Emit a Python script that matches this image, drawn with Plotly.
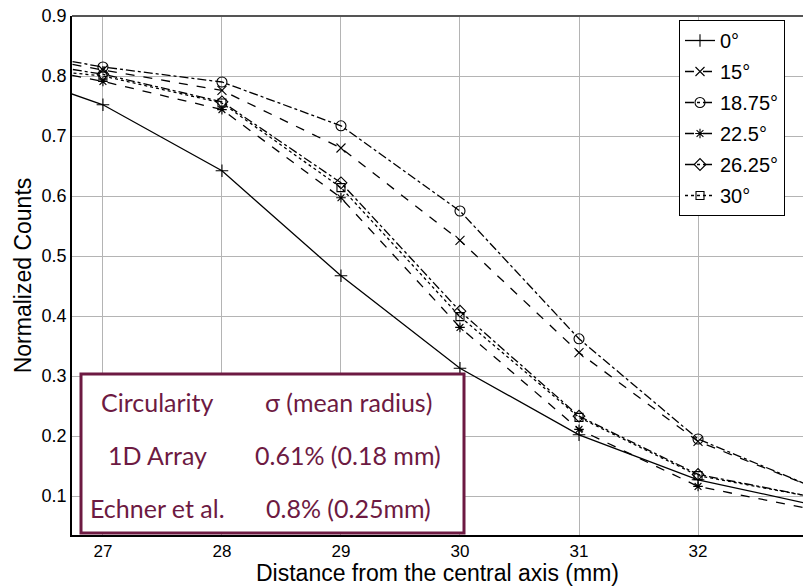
import plotly.graph_objects as go

# ---- data ----
distance_mm = [26, 27, 28, 29, 30, 31, 32, 33]
counts_0 = [0.821, 0.752, 0.642, 0.467, 0.313, 0.202, 0.127, 0.084]
counts_15 = [0.846, 0.810, 0.776, 0.680, 0.526, 0.339, 0.191, 0.112]
counts_18_75 = [0.850, 0.815, 0.790, 0.717, 0.575, 0.362, 0.195, 0.112]
counts_22_5 = [0.830, 0.791, 0.744, 0.597, 0.381, 0.211, 0.116, 0.076]
counts_26_25 = [0.834, 0.803, 0.757, 0.622, 0.408, 0.233, 0.136, 0.097]
counts_30 = [0.820, 0.800, 0.755, 0.614, 0.399, 0.231, 0.134, 0.097]

series_names = ["0°", "15°", "18.75°", "22.5°", "26.25°", "30°"]
x_ticks = [27, 28, 29, 30, 31, 32]
y_ticks = [0.1, 0.2, 0.3, 0.4, 0.5, 0.6, 0.7, 0.8, 0.9]

table_rows = [
    ["Circularity", "σ (mean radius)"],
    ["1D Array", "0.61% (0.18 mm)"],
    ["Echner et al.", "0.8% (0.25mm)"],
]

# ---- styles ----
series_values = [counts_0, counts_15, counts_18_75, counts_22_5, counts_26_25, counts_30]
dashes = ["solid", "dash", "dashdot", "dash", "dashdot", "dot"]
symbols = ["cross-thin-open", "x-thin-open", "circle-open", "asterisk-open",
           "diamond-open", "square-open"]
msizes = [9, 9, 10, 8, 9, 8]

W, H = 803, 586
ML, MR, MT, MB = 72, 0, 16, 51
PW, PH = W - ML - MR, H - MT - MB

def px(x):
    return (x - ML) / PW

def py(y):
    return (H - MB - y) / PH

AX = "Arial, Liberation Sans, sans-serif"
MAROON = "#6d1a42"

fig = go.Figure()
for i, (name, vals) in enumerate(zip(series_names, series_values)):
    fig.add_trace(go.Scatter(
        x=distance_mm, y=vals, name=name, mode="lines+markers",
        legendgroup=f"g{i}",
        line=dict(color="black", width=1.3, dash=dashes[i]),
        marker=dict(symbol=symbols[i], size=msizes[i], color="black",
                    line=dict(color="black", width=1.1)),
        cliponaxis=True,
    ))

fig.update_layout(
    width=W, height=H,
    margin=dict(l=ML, r=MR, t=MT, b=MB, autoexpand=False),
    paper_bgcolor="white", plot_bgcolor="white",
    font=dict(family=AX, color="black"),
    showlegend=True,
    legend=dict(
        x=px(679), y=py(20), xanchor="left", yanchor="top",
        bgcolor="white", bordercolor="black", borderwidth=1,
        font=dict(family=AX, size=20, color="black"),
        tracegroupgap=2, traceorder="grouped",
    ),
    xaxis=dict(
        range=[26.74, 32.882], tickvals=x_ticks, ticktext=[str(t) for t in x_ticks],
        showgrid=True, gridcolor="#b4b4b4", gridwidth=1.3,
        showline=True, linecolor="black", linewidth=1.5,
        zeroline=False, ticks="", tickfont=dict(size=17),
        title=dict(text="Distance from the central axis (mm)", font=dict(size=23), standoff=2),
        automargin=False,
    ),
    yaxis=dict(
        range=[0.035, 0.9], tickvals=y_ticks, ticktext=[f"{t:.1f}" for t in y_ticks],
        showgrid=True, gridcolor="#b4b4b4", gridwidth=1.3,
        showline=True, linecolor="black", linewidth=1.5,
        zeroline=False, ticks="", tickfont=dict(size=18),
        title=dict(text="Normalized Counts", font=dict(size=23), standoff=4),
        automargin=False,
    ),
)

# top border
fig.add_shape(type="line", xref="paper", yref="paper", x0=0, x1=1, y0=1, y1=1,
              line=dict(color="#555555", width=2))

# table box
fig.add_shape(type="rect", xref="paper", yref="paper",
              x0=px(81), x1=px(464), y0=py(533), y1=py(374),
              line=dict(color=MAROON, width=3), fillcolor="white", layer="above")

col_x = [157, 348]
row_y = [402, 455, 508]
for r, row in enumerate(table_rows):
    for c, txt in enumerate(row):
        fig.add_annotation(x=px(col_x[c]), y=py(row_y[r]), xref="paper", yref="paper",
                           text=txt, showarrow=False, xanchor="center", yanchor="middle",
                           font=dict(family="Lato, Carlito, sans-serif", size=25, color=MAROON))

fig.write_html("out.html", config={"displayModeBar": False},
               post_script="document.body.style.margin='0';")
